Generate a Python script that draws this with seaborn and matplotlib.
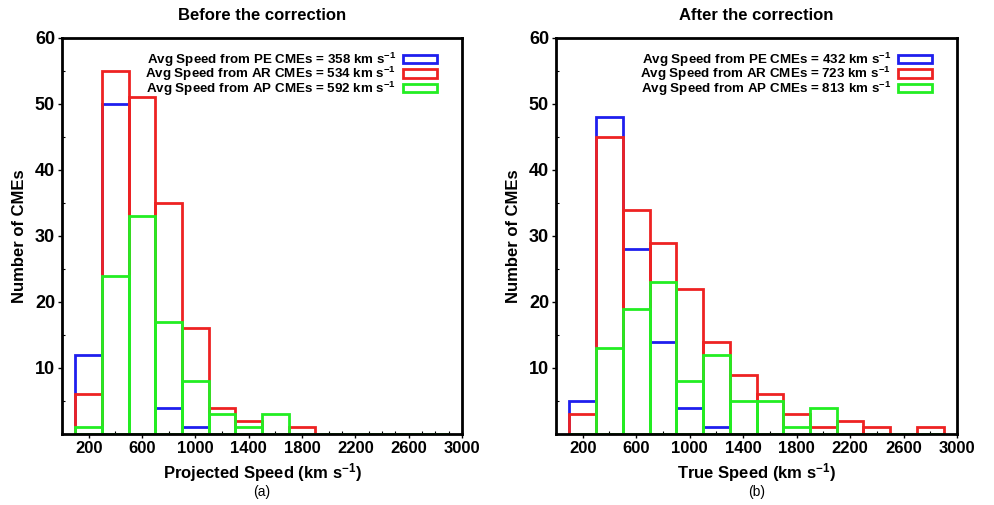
import numpy as np
import matplotlib
matplotlib.use("Agg")
import matplotlib.pyplot as plt
from matplotlib.patches import Patch
from matplotlib.ticker import MultipleLocator
from matplotlib import font_manager
import seaborn as sns

# ---- data ----
bin_edges = list(range(100, 3000, 200))           # 100 ... 2900
bin_centers = [e + 100 for e in bin_edges[:-1]]   # 200 ... 2800

before_pe = [12, 50, 0, 4, 1, 0, 0, 0, 0, 0, 0, 0, 0, 0]
before_ar = [6, 55, 51, 35, 16, 4, 2, 0, 1, 0, 0, 0, 0, 0]
before_ap = [1, 24, 33, 17, 8, 3, 1, 3, 0, 0, 0, 0, 0, 0]

after_pe = [5, 48, 28, 14, 4, 1, 0, 0, 0, 0, 0, 0, 0, 0]
after_ar = [3, 45, 34, 29, 22, 14, 9, 6, 3, 1, 2, 1, 0, 1]
after_ap = [0, 13, 19, 23, 8, 12, 5, 5, 1, 4, 0, 0, 0, 0]

before_avgs = [358, 534, 592]
after_avgs = [432, 723, 813]
groups = ["PE", "AR", "AP"]
titles = ["Before the correction", "After the correction"]
xlabels = ["Projected Speed (km s$^{-1}$)", "True Speed (km s$^{-1}$)"]
panel_tags = ["(a)", "(b)"]
xticks = [200, 600, 1000, 1400, 1800, 2200, 2600, 3000]
yticks = [10, 20, 30, 40, 50, 60]

colors = ["#1f1fee", "#ee2222", "#22ee22"]

sns.set_theme(style="white")
names = {f.name for f in font_manager.fontManager.ttflist}
base = "Liberation Sans" if "Liberation Sans" in names else "DejaVu Sans"
narrow = "Liberation Sans Narrow" if "Liberation Sans Narrow" in names else base
plt.rcParams["font.family"] = [base, "DejaVu Sans"]
plt.rcParams["mathtext.fontset"] = "custom"
plt.rcParams["mathtext.rm"] = base + ":bold"
plt.rcParams["mathtext.default"] = "rm"
for key in ["text.color", "axes.labelcolor", "xtick.color", "ytick.color"]:
    plt.rcParams[key] = "black"

fig = plt.figure(figsize=(9.94, 5.05), dpi=100)
ax1 = fig.add_axes([62 / 994, 1 - 434 / 505, 400 / 994, 396 / 505])
ax2 = fig.add_axes([556 / 994, 1 - 434 / 505, 401 / 994, 396 / 505])

datasets = [(before_pe, before_ar, before_ap, before_avgs),
            (after_pe, after_ar, after_ap, after_avgs)]

for i, (ax, (pe, ar, ap, avgs)) in enumerate(zip([ax1, ax2], datasets)):
    for counts, c in zip([pe, ar, ap], colors):
        sns.histplot(x=bin_centers, weights=counts, bins=bin_edges,
                     element="bars", fill=False, color=c, linewidth=2,
                     ax=ax)
    ax.set_xlim(0, 3000)
    ax.set_ylim(0, 60)
    ax.set_xticks(xticks)
    ax.set_yticks(yticks)
    ax.xaxis.set_minor_locator(MultipleLocator(100))
    ax.yaxis.set_minor_locator(MultipleLocator(5))
    ax.tick_params(axis="both", which="major", direction="out", length=3,
                   width=1, color="black", labelcolor="black", pad=2,
                   bottom=True, left=True)
    ax.tick_params(axis="both", which="minor", direction="in", length=2.5,
                   width=0.8, color="black", bottom=True, left=True)
    for lab in ax.get_xticklabels():
        lab.set_fontweight("bold")
        lab.set_family(narrow)
        lab.set_fontsize(12)
    for lab in ax.get_yticklabels():
        lab.set_fontweight("bold")
        lab.set_fontsize(13)
    for sp in ax.spines.values():
        sp.set_visible(True)
        sp.set_color("black")
        sp.set_linewidth(2)
    ax.set_title(titles[i], fontsize=12, fontweight="bold", pad=13)
    ax.set_ylabel("Number of CMEs", fontsize=12, fontweight="bold", labelpad=6)
    ax.set_xlabel(xlabels[i], fontsize=12, fontweight="bold", labelpad=4)
    ax.text(0.5, -0.13, panel_tags[i], transform=ax.transAxes, ha="center",
            va="top", fontsize=10)
    handles = [Patch(facecolor="none", edgecolor=c, linewidth=2) for c in colors]
    labels = [f"Avg Speed from {g} CMEs = {v} km s$^{{-1}}$"
              for g, v in zip(groups, avgs)]
    leg = ax.legend(handles, labels, loc="upper right", frameon=False,
                    markerfirst=False, handlelength=2.6, handleheight=0.6,
                    labelspacing=-0.28, handletextpad=0.5, borderpad=0.3,
                    bbox_to_anchor=(0.965, 0.995),
                    prop={"weight": "bold", "size": 9.6})
    for t in leg.get_texts():
        t.set_ha("right")

fig.savefig("out.png", dpi=100)
